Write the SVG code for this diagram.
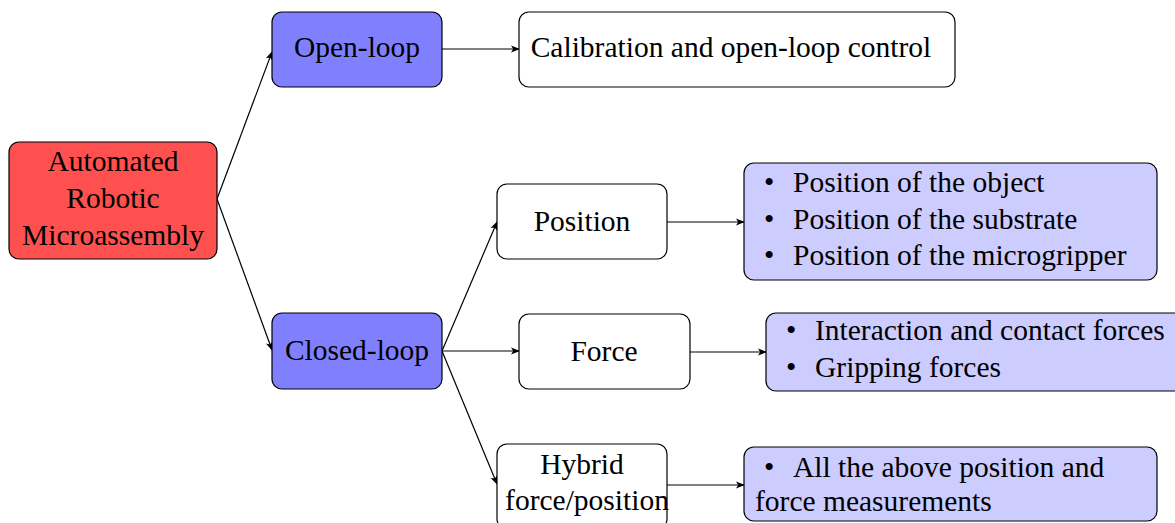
<svg xmlns="http://www.w3.org/2000/svg" width="1175" height="523" viewBox="0 0 1175 523">
<style>
.b{stroke:#000;stroke-width:1.2}
.w{fill:#fff}
.p{fill:#8080ff}
.r{fill:#ff5050}
.l{fill:#ccccff}
text{font-family:"Liberation Serif","Times New Roman",serif;font-size:29.5px;fill:#000}
.c{text-anchor:middle}
.e{fill:none;stroke:#000;stroke-width:1.2;marker-end:url(#ah)}
</style>
<defs>
<marker id="ah" viewBox="0 0 10 10" refX="9" refY="5" markerWidth="9" markerHeight="9" markerUnits="userSpaceOnUse" orient="auto">
<path d="M0,1 L10,5 L0,9 L2.5,5 Z" fill="#000"/>
</marker>
</defs>
<g id="connectors">
<path class="e" d="M217,199 L272,52"/>
<path class="e" d="M217,199 L272,350"/>
<path class="e" d="M442,49 L519,49"/>
<path class="e" d="M442,351 L497,222"/>
<path class="e" d="M442,351 L519,351"/>
<path class="e" d="M442,351 L497,484"/>
<path class="e" d="M667,222 L744,222"/>
<path class="e" d="M690,352 L766,352"/>
<path class="e" d="M667,485 L744,485"/>
</g>
<g id="root">
<rect class="b r" x="9" y="142" width="208" height="117" rx="10"/>
<text class="c" x="113" y="171">Automated</text>
<text class="c" x="113" y="208">Robotic</text>
<text class="c" x="113" y="245">Microassembly</text>
</g>
<g id="openloop">
<rect class="b p" x="272" y="12" width="170" height="75" rx="10"/>
<text class="c" x="357" y="57">Open-loop</text>
</g>
<g id="calibration">
<rect class="b w" x="519" y="12" width="436" height="75" rx="10"/>
<text class="c" x="731" y="57">Calibration and open-loop control</text>
</g>
<g id="closedloop">
<rect class="b p" x="272" y="313" width="170" height="76" rx="10"/>
<text class="c" x="357" y="360">Closed-loop</text>
</g>
<g id="position">
<rect class="b w" x="497" y="184" width="170" height="75" rx="10"/>
<text class="c" x="582" y="231">Position</text>
</g>
<g id="force">
<rect class="b w" x="519" y="314" width="171" height="75" rx="10"/>
<text class="c" x="604" y="361">Force</text>
</g>
<g id="hybrid">
<rect class="b w" x="497" y="444" width="170" height="85" rx="10"/>
<text class="c" x="582" y="474">Hybrid</text>
<text class="c" x="587" y="510">force/position</text>
</g>
<g id="positionlist">
<rect class="b l" x="744" y="163" width="413" height="117" rx="10"/>
<text x="764" y="192">•</text><text x="793" y="192">Position of the object</text>
<text x="764" y="229">•</text><text x="793" y="229">Position of the substrate</text>
<text x="764" y="265">•</text><text x="793" y="265">Position of the microgripper</text>
</g>
<g id="forcelist">
<rect class="b l" x="766" y="313" width="420" height="78" rx="10"/>
<text x="786" y="340">•</text><text x="815" y="340">Interaction and contact forces</text>
<text x="786" y="377">•</text><text x="815" y="377">Gripping forces</text>
</g>
<g id="hybridlist">
<rect class="b l" x="744" y="447" width="413" height="74" rx="10"/>
<text x="764" y="477">•</text><text x="793" y="477">All the above position and</text>
<text x="755" y="511">force measurements</text>
</g>
</svg>
